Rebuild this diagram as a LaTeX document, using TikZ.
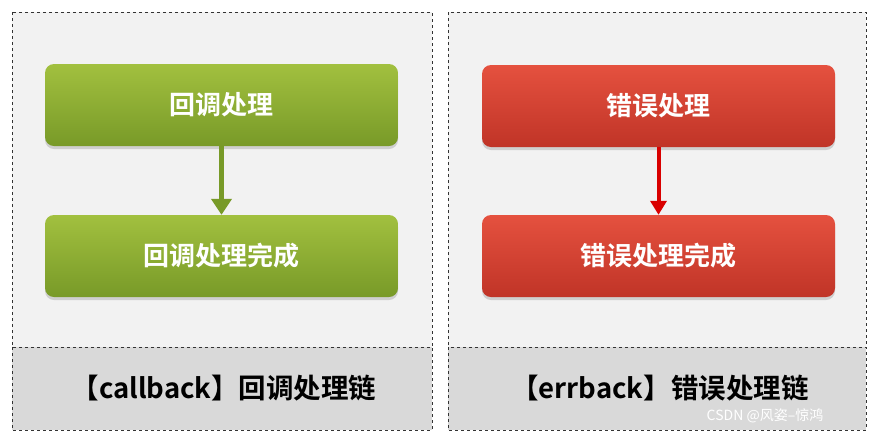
\documentclass[tikz,border=0pt]{standalone}
\usepackage{fontspec}
\setmainfont{Noto Sans CJK SC}
\newfontfamily\cjkb{Noto Sans CJK SC Bold}
\usetikzlibrary{shadows,arrows.meta}
\definecolor{gtop}{HTML}{A2C03F}
\definecolor{gbot}{HTML}{789A28}
\definecolor{rtop}{HTML}{E5513F}
\definecolor{rbot}{HTML}{C03427}
\definecolor{panel}{HTML}{F2F2F2}
\definecolor{foot}{HTML}{D9D9D9}
\begin{document}
\begin{tikzpicture}[x=1pt,y=-1pt,
  panelbox/.style={draw=black!80,dashed,line width=0.8pt,fill=panel},
  footbox/.style={draw=black!80,dashed,line width=0.8pt,fill=foot},
  gbox/.style={rounded corners=9pt,top color=gtop,bottom color=gbot,draw=none,
    minimum width=353pt,minimum height=82pt,text=white,font=\cjkb\fontsize{26}{30}\selectfont,
    drop shadow={shadow xshift=0pt,shadow yshift=-3pt,opacity=0.3}},
  rbox/.style={gbox,top color=rtop,bottom color=rbot},
  lbl/.style={font=\cjkb\fontsize{27.5}{30}\selectfont,text=black}]
\useasboundingbox (0,0) rectangle (874,437);
\fill[white] (0,0) rectangle (874,437);
\draw[panelbox] (12,12) rectangle (432,347);
\draw[footbox] (12,347) rectangle (432,430);
\draw[panelbox] (448,12) rectangle (866,347);
\draw[footbox] (448,347) rectangle (866,430);
\node[gbox] (g1) at (221.5,105) {回调处理};
\node[gbox] (g2) at (221.5,256) {回调处理完成};
\node[rbox] (r1) at (658.5,106) {错误处理};
\node[rbox] (r2) at (658.5,256) {错误处理完成};
\draw[line width=5pt,color=gbot,-{Triangle[length=16pt,width=20pt]}] (g1.south) -- (g2.north);
\draw[line width=4pt,color=red!85!black,-{Triangle[length=14pt,width=16pt]}] (r1.south) -- (r2.north);
\node[lbl] (l1) at (224,388) {【callback】回调处理链};
\node[lbl] (l2) at (660,388) {【errback】错误处理链};
\node[font=\fontsize{14}{16}\selectfont,text=white] (wm) at (765,416) {CSDN @风姿--惊鸿};
\end{tikzpicture}
\end{document}
